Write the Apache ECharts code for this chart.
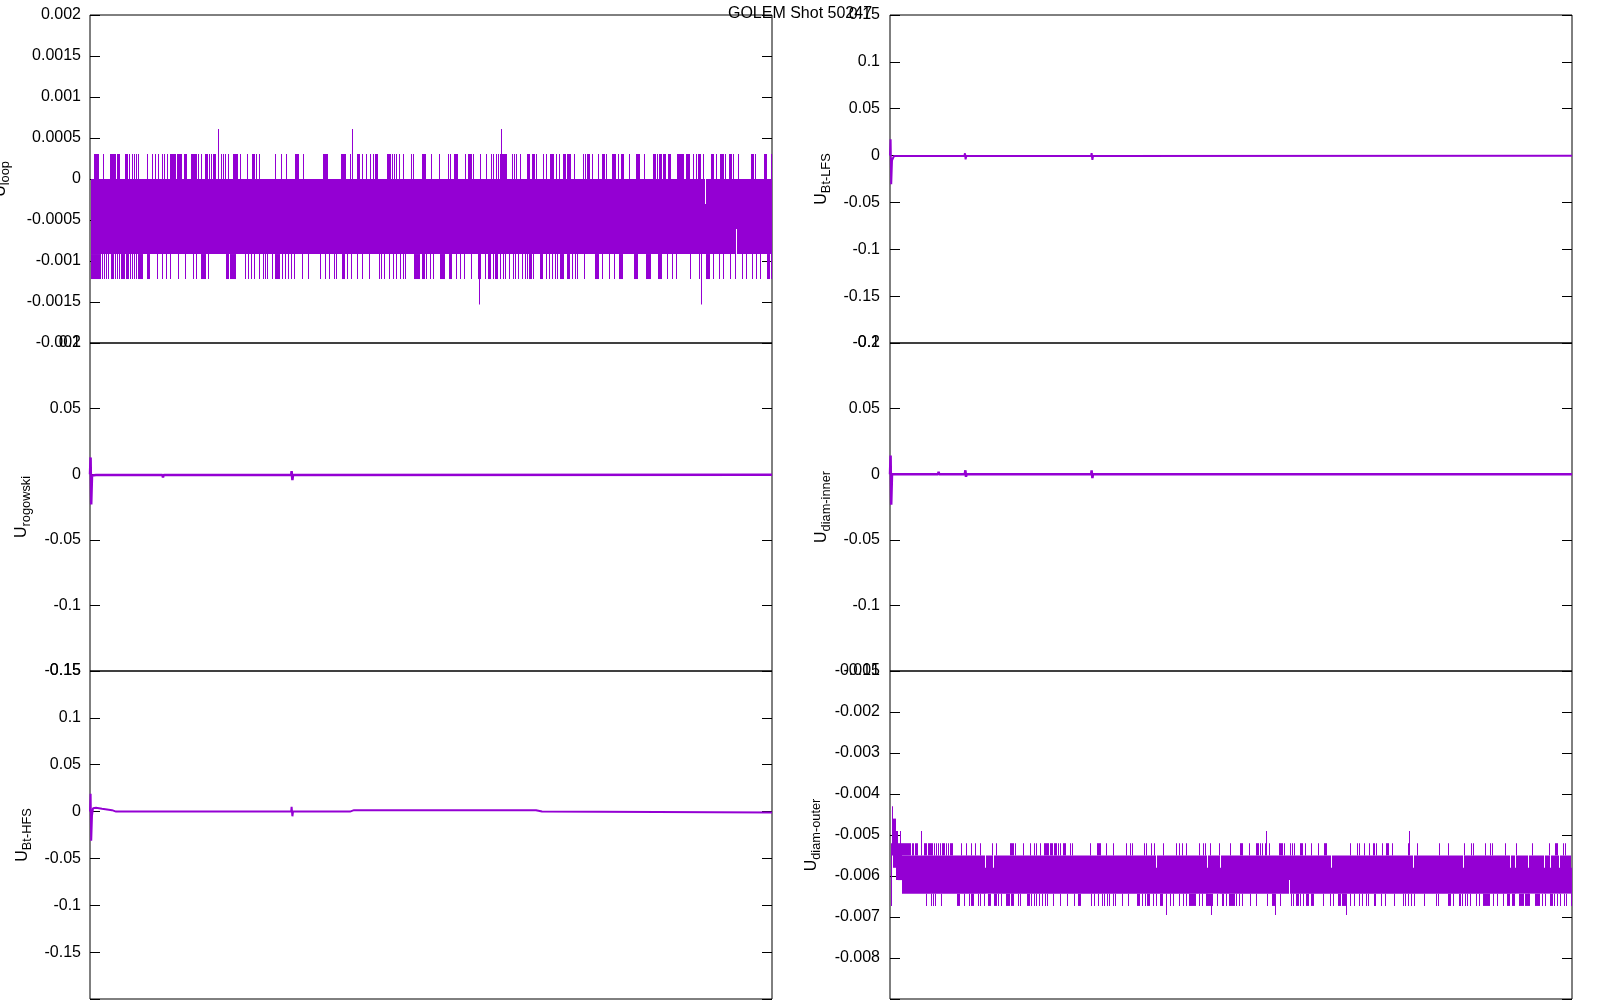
<!DOCTYPE html>
<html>
<head>
<meta charset="utf-8">
<script src="https://cdn.jsdelivr.net/npm/echarts@6/dist/echarts.min.js"></script>
<style>
html,body{margin:0;padding:0;background:#fff;}
#chart{width:1600px;height:1000px;}
</style>
</head>
<body>
<div id="chart"></div>
<script>
// ---------------- data (time in ms) ----------------
const T_MAX = 34.1;
const SAMPLE_DT = 0.05;
const titleText = 'GOLEM Shot 50247';

// U_loop : quantised noise band + excursions
const loopBand = [0.05, 34.1, -0.000915, 0];
const loopNotches = [[30.75, -0.000915, -0.000305], [32.3, -0.00061, 0]];
const loopUpLevel = 0.000305, loopUpTallLevel = 0.00061;
const loopDownLevel = -0.00122, loopDownTallLevel = -0.00153;
const loopUp = [[0.2,0.37],0.42,0.65,[1.0,1.1],[1.15,1.25],[1.35,1.45],[1.75,1.85],1.95,2.1,2.2,2.3,2.4,2.85,3.1,3.25,3.4,3.6,3.7,3.85,[4.0,4.25],[4.35,4.5],4.55,[4.7,4.8],[5.05,5.15],[5.2,5.3],5.4,5.55,[5.75,5.85],5.95,6.05,[6.15,6.25],6.55,6.65,6.75,6.9,[7.15,7.35],7.5,7.85,[8.1,8.2],8.3,8.45,9.25,9.55,9.8,[10.25,10.35],10.4,10.65,[11.65,11.85],[12.55,12.75],13.0,[13.35,13.45],13.6,13.8,14.0,14.15,[14.25,14.35],[14.85,14.95],15.0,15.1,15.2,15.3,15.45,15.65,16.05,16.15,[16.6,16.75],17.05,17.45,17.9,18.0,[18.2,18.3],18.35,18.75,[18.9,19.05],19.15,19.5,19.8,20.05,20.15,20.3,20.4,[20.5,20.8],21.1,21.2,21.3,21.5,[21.85,21.95],[22.1,22.2],22.3,22.65,22.8,[23.0,23.15],23.3,23.45,[23.65,23.75],[23.85,24.0],24.2,24.65,24.75,[24.85,24.95],25.1,25.4,[25.6,25.7],25.8,[26.1,26.25],26.4,[26.55,26.65],26.95,[27.3,27.45],27.7,[28.15,28.25],28.35,[28.45,28.55],[28.65,28.75],[28.9,29.0],[29.35,29.65],[29.8,29.95],30.15,30.3,[30.4,30.5],30.65,[31.05,31.15],31.3,[31.5,31.65],31.75,[31.95,32.05],32.15,32.4,[33.05,33.15],33.25,[33.7,33.8],34.05];
const loopUpTall = [6.4, 13.1, 20.57];
const loopDown = [[0.05,0.45],0.5,0.6,0.7,0.8,0.9,[1.05,1.15],1.25,1.35,1.45,[1.55,1.7],[1.8,1.9],2.0,2.1,2.2,2.3,[2.4,2.6],[2.85,2.95],3.35,3.6,3.8,4.0,4.4,4.75,5.15,5.3,[5.55,5.75],5.9,[6.8,6.9],[7.0,7.25],7.75,7.9,8.05,8.2,8.45,8.65,8.75,8.85,9.1,[9.25,9.45],9.6,9.75,9.9,10.05,10.2,10.6,10.9,11.5,11.75,11.95,12.2,12.3,[12.6,12.7],12.85,13.05,13.35,13.6,13.95,14.45,14.55,14.7,14.95,15.15,15.3,15.5,15.65,15.75,[16.2,16.3],[16.35,16.45],[16.6,16.7],16.8,17.0,17.15,[17.5,17.7],[17.95,18.05],18.3,18.5,18.7,19.05,[19.4,19.5],19.75,[19.9,20.0],20.15,[20.25,20.35],20.5,20.65,20.75,20.95,21.15,21.25,21.4,21.6,21.75,21.85,[21.95,22.05],22.15,[22.5,22.6],22.8,22.95,23.1,23.25,23.35,[23.5,23.65],[23.85,23.95],24.1,24.25,24.35,24.7,[25.25,25.4],25.6,25.95,26.2,[26.45,26.6],[27.2,27.35],[27.8,28.0],[28.4,28.55],28.85,29.1,29.3,30.0,30.45,[30.8,30.95],31.15,31.45,31.65,32.0,32.25,32.6,32.8,33.1,33.3,33.5,[33.85,33.95],34.05];
const loopDownTall = [19.43, 30.55];

// U_rogowski
const rogT = [0.00, 0.03, 0.06, 0.10, 0.30, 3.62, 3.65, 3.68, 10.06, 10.08, 10.12, 10.15, 34.1];
const rogV = [0.0, 0.0128, -0.0230, -0.0010, -0.0006, -0.0006, -0.0025, -0.0006, -0.0006, 0.0024, -0.0045, -0.0006, -0.0005];

// U_Bt-HFS
const hfsT = [0.00, 0.03, 0.06, 0.10, 0.15, 0.30, 0.60, 1.10, 1.30, 10.06, 10.08, 10.12, 10.15, 13.0, 13.2, 22.3, 22.6, 34.1];
const hfsV = [0.0, 0.0189, -0.0310, -0.0040, 0.0035, 0.0040, 0.0030, 0.0015, 0.0, 0.0, 0.0050, -0.0050, 0.0, 0.0, 0.0015, 0.0015, 0.0, -0.0010];

// U_Bt-LFS
const lfsT = [0.00, 0.03, 0.06, 0.10, 0.20, 3.72, 3.75, 3.78, 3.81, 10.06, 10.08, 10.12, 10.15, 34.1];
const lfsV = [0.0, 0.0175, -0.0305, -0.0050, -0.0005, -0.0005, 0.0025, -0.0040, -0.0005, -0.0005, 0.0025, -0.0045, -0.0005, -0.0003];

// U_diam-inner
const innT = [0.00, 0.03, 0.06, 0.10, 2.40, 2.43, 2.46, 3.74, 3.77, 3.80, 3.83, 10.06, 10.08, 10.12, 10.15, 34.1];
const innV = [0.0, 0.0143, -0.0233, 0.0, 0.0, 0.0018, 0.0, 0.0, 0.0030, -0.0020, 0.0, 0.0, 0.0030, -0.0030, 0.0, 0.0];

// U_diam-outer
const outerBand = [0.6, 34.1, -0.00643, -0.0055];
const outerTransient = [[0.03,0.10,-0.00673,-0.0052],[0.10,0.15,-0.0055,-0.0043],[0.15,0.30,-0.0058,-0.0046],[0.30,0.40,-0.0061,-0.0049],[0.40,0.60,-0.0061,-0.0052]];
const outerNotchTop = [4.75, 5.15, 13.3, 15.85, 16.5, 22.05, 26.15, 28.65, 31.0, 31.25, 31.9, 32.7, 33.0, 33.45, 34.05];
const outerNotchTopLevel = -0.0058;
const outerNotchBottom = [19.95];
const outerNotchBottomLevel = -0.0061;
const outerUpLevel = -0.0052, outerUpTallLevel = -0.0049;
const outerDownLevel = -0.00673, outerDownTallLevel = -0.00695;
const outerUp = [[0.6,1.0],[1.1,1.15],[1.25,1.3],1.35,[1.7,1.8],[1.9,2.1],2.2,2.3,2.4,2.5,[2.6,2.7],2.8,2.9,[3.0,3.1],3.55,3.8,4.05,4.25,4.5,5.1,5.3,[6.0,6.15],6.25,6.65,7.0,7.2,7.3,7.5,[7.7,7.9],[8.0,8.1],[8.2,8.3],8.4,8.5,[8.65,8.75],9.0,9.1,10.0,[10.35,10.5],10.8,11.15,11.8,12.0,12.1,12.7,12.8,13.05,13.2,13.65,14.3,14.45,14.6,14.8,15.45,15.65,15.75,16.0,16.45,17.0,[17.5,17.6],17.95,[18.3,18.4],18.5,18.6,18.75,18.95,[19.45,19.6],19.7,20.0,20.1,20.2,[20.5,20.6],20.75,21.05,21.4,[21.7,21.8],23.0,23.35,23.45,23.7,23.95,[24.15,24.2],24.3,24.6,[24.8,24.9],25.1,25.9,26.35,27.45,27.9,28.7,29.05,29.15,29.75,30.0,30.1,30.75,31.3,32.1,32.95,[33.25,33.35],33.65,33.75];
const outerUpTall = [0.5, 1.55, 18.8, 25.95];
const outerDown = [1.8,2.05,2.17,2.25,2.55,[3.35,3.45],3.7,3.95,[4.05,4.15],4.4,4.5,4.7,[4.9,5.0],[5.2,5.3],5.4,5.55,[5.8,5.95],[6.05,6.15],6.4,6.5,[6.85,6.95],7.05,7.2,7.3,7.45,7.6,7.75,7.85,8.15,8.5,8.85,9.2,[9.4,9.5],10.05,10.2,10.4,10.6,10.7,10.85,10.95,11.15,11.25,11.6,11.9,[12.35,12.45],12.6,12.75,[12.85,12.95],13.15,13.3,[13.5,13.6],14.0,14.15,14.45,14.65,14.8,[14.95,15.25],15.45,15.6,[15.8,16.0],16.1,16.35,16.6,16.65,16.8,[16.95,17.2],17.3,17.45,17.6,18.0,18.3,18.85,[19.1,19.2],19.5,20.05,20.15,[20.3,20.4],20.5,20.65,[20.8,20.9],[21.05,21.15],21.65,22.0,22.15,[22.4,22.5],[22.6,22.75],23.0,23.2,23.45,23.6,23.8,23.9,[24.2,24.25],24.55,24.75,25.2,25.65,25.75,25.9,26.05,26.2,26.7,27.3,27.4,[27.9,28.0],28.15,[28.45,28.5],28.6,28.75,28.85,29.0,29.3,29.45,[29.65,29.95],30.15,30.35,30.65,[30.85,30.95],[31.1,31.2],[31.45,31.65],[31.75,31.95],[32.25,32.45],32.6,32.75,[33.0,33.1],33.2,33.35,33.5,33.7,33.8,34.05];
const outerDownTall = [13.8, 16.05, 19.25, 22.8];

// axes
const panelNames = ['loop', 'rogowski', 'Bt-HFS', 'Bt-LFS', 'diam-inner', 'diam-outer'];
const yMin = [-0.002, -0.15, -0.2, -0.2, -0.15, -0.009];
const yMax = [0.002, 0.1, 0.15, 0.15, 0.1, -0.001];
const yStep = [0.0005, 0.05, 0.05, 0.05, 0.05, 0.001];
const yHidden = [[], [], [-0.2], [], [], [-0.009]];

// ---------------- layout / style ----------------
const COLOR = '#9400d3';
const FONT = '"Liberation Sans", Arial, sans-serif';
const gridPos = [
  {left: 90, top: 15}, {left: 90, top: 343}, {left: 90, top: 671},
  {left: 890, top: 15}, {left: 890, top: 343}, {left: 890, top: 671}
];
const nameGaps = [79, 58, 57, 58, 58, 68];
const labelMargins = [9, 9, 9, 10, 10, 10];

// ---------------- builders ----------------
function spans(list) { return list.map(e => Array.isArray(e) ? e : [e, e]); }
function spikeRows(list, a, b) {
  return spans(list).map(s => [s[0], s[1], Math.min(a, b), Math.max(a, b), 1]);
}
function bandRows(band, notches) {
  const rows = [];
  const sorted = notches.slice().sort((p, q) => p[0] - q[0]);
  let cur = band[0];
  sorted.forEach(n => {
    if (n[0] > cur) rows.push([cur, n[0], band[2], band[3], 0]);
    rows.push([n[0], n[0] + SAMPLE_DT, n[1], n[2], 0]);
    cur = n[0] + SAMPLE_DT;
  });
  if (cur < band[1]) rows.push([cur, band[1], band[2], band[3], 0]);
  return rows;
}
function renderBars(params, api) {
  const t0 = api.value(0), t1 = api.value(1), lo = api.value(2), hi = api.value(3), extra = api.value(4);
  const pA = api.coord([t0, hi]);
  const pB = api.coord([t1, lo]);
  const x0 = Math.round(pA[0]);
  const x1 = Math.round(pB[0]) + (extra ? 1 : 0);
  return {
    type: 'rect',
    shape: {x: x0, y: pA[1], width: Math.max(x1 - x0, 1), height: pB[1] - pA[1]},
    style: {fill: COLOR}
  };
}
function zip(ts, vs) { return ts.map((t, i) => [t, vs[i]]); }

const loopRows = [].concat(
  bandRows(loopBand, loopNotches),
  spikeRows(loopUp, loopBand[3], loopUpLevel),
  spikeRows(loopUpTall, loopBand[3], loopUpTallLevel),
  spikeRows(loopDown, loopBand[2], loopDownLevel),
  spikeRows(loopDownTall, loopBand[2], loopDownTallLevel)
);
const outerNotches = outerNotchTop.map(t => [t, outerBand[2], outerNotchTopLevel])
  .concat(outerNotchBottom.map(t => [t, outerNotchBottomLevel, outerBand[3]]));
const outerRows = [].concat(
  outerTransient.map(r => [r[0], r[1], r[2], r[3], 0]),
  bandRows(outerBand, outerNotches),
  spikeRows(outerUp, outerBand[3], outerUpLevel),
  spikeRows(outerUpTall, outerBand[3], outerUpTallLevel),
  spikeRows(outerDown, outerBand[2], outerDownLevel),
  spikeRows(outerDownTall, outerBand[2], outerDownTallLevel)
);

function fmt(hidden) {
  return v => hidden.some(h => Math.abs(h - v) < 1e-12) ? '' : String(+(+v).toPrecision(6));
}

const grids = [], xAxes = [], yAxes = [];
gridPos.forEach((g, i) => {
  grids.push({left: g.left, top: g.top, width: 682, height: 328, show: true,
    borderColor: '#000', borderWidth: 1, backgroundColor: 'transparent',
    containLabel: false, outerBoundsMode: 'none'});
  xAxes.push({gridIndex: i, type: 'value', min: 0, max: T_MAX, show: false});
  yAxes.push({
    gridIndex: i, type: 'value', position: 'left', min: yMin[i], max: yMax[i], interval: yStep[i],
    axisLine: {show: false},
    axisTick: {show: true, inside: true, length: 10, lineStyle: {color: '#000', width: 1}},
    axisLabel: {show: true, margin: labelMargins[i], color: '#000', fontSize: 16, fontFamily: FONT, formatter: fmt(yHidden[i])},
    splitLine: {show: false},
    name: '{u|U}{s|' + panelNames[i] + '}',
    nameLocation: 'middle', nameRotate: 90, nameGap: nameGaps[i],
    nameTextStyle: {rich: {
      u: {fontSize: 16, fontFamily: FONT, color: '#000', lineHeight: 18, verticalAlign: 'top'},
      s: {fontSize: 12.8, fontFamily: FONT, color: '#000', lineHeight: 18, padding: [6, 0, 0, 0], verticalAlign: 'top'}
    }}
  });
  yAxes.push({
    gridIndex: i, type: 'value', position: 'right', min: yMin[i], max: yMax[i], interval: yStep[i],
    axisLine: {show: false},
    axisTick: {show: true, inside: true, length: 10, lineStyle: {color: '#000', width: 1}},
    axisLabel: {show: false}, splitLine: {show: false}
  });
});

function lineSeries(i, data, w) {
  return {type: 'line', xAxisIndex: i, yAxisIndex: 2 * i, data: data, showSymbol: false, symbol: 'none',
    lineStyle: {color: COLOR, width: w}, clip: true, silent: true};
}
function barsSeries(i, rows) {
  return {type: 'custom', xAxisIndex: i, yAxisIndex: 2 * i, data: rows, renderItem: renderBars,
    encode: {x: [0, 1], y: [2, 3]}, clip: true, silent: true};
}

const option = {
  animation: false,
  backgroundColor: '#fff',
  title: {text: titleText, left: 'center', top: 1,
    textStyle: {fontSize: 16, fontWeight: 'normal', color: '#000', fontFamily: FONT}},
  grid: grids, xAxis: xAxes, yAxis: yAxes,
  series: [
    barsSeries(0, loopRows),
    lineSeries(1, zip(rogT, rogV), 2.5),
    lineSeries(2, zip(hfsT, hfsV), 2),
    lineSeries(3, zip(lfsT, lfsV), 2),
    lineSeries(4, zip(innT, innV), 2.5),
    barsSeries(5, outerRows)
  ]
};
const chart = echarts.init(document.getElementById('chart'), null, {renderer: 'canvas'});
chart.setOption(option);
</script>
</body>
</html>
